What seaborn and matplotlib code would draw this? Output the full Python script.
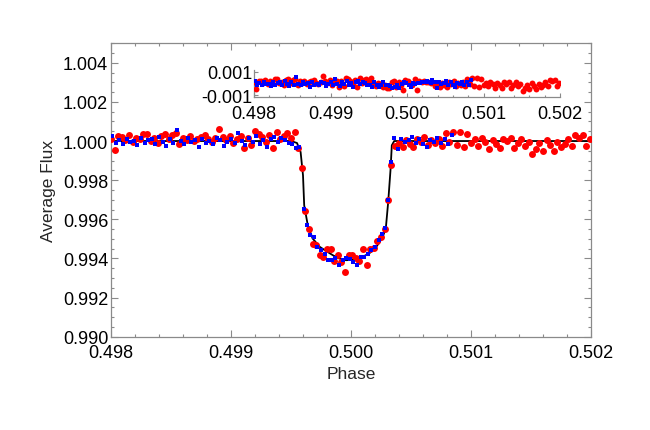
import numpy as np
import pandas as pd
import matplotlib
matplotlib.use("Agg")
import matplotlib.pyplot as plt
from matplotlib.ticker import MultipleLocator, FormatStrFormatter
import seaborn as sns

# ---------------- data ----------------
red_phase = [
    0.49800, 0.49803, 0.49806, 0.49809, 0.49812, 0.49815, 0.49818, 0.49821, 0.49824, 0.49827,
    0.49830, 0.49833, 0.49836, 0.49839, 0.49842, 0.49845, 0.49848, 0.49851, 0.49854, 0.49857,
    0.49860, 0.49863, 0.49866, 0.49869, 0.49872, 0.49875, 0.49878, 0.49881, 0.49884, 0.49887,
    0.49890, 0.49893, 0.49896, 0.49899, 0.49902, 0.49905, 0.49908, 0.49911, 0.49914, 0.49917,
    0.49920, 0.49923, 0.49926, 0.49929, 0.49932, 0.49935, 0.49938, 0.49941, 0.49944, 0.49947,
    0.49950, 0.49953, 0.49956, 0.49959, 0.49962, 0.49965, 0.49968, 0.49971, 0.49974, 0.49977,
    0.49980, 0.49983, 0.49986, 0.49989, 0.49992, 0.49995, 0.49998, 0.50001, 0.50004, 0.50007,
    0.50010, 0.50013, 0.50016, 0.50019, 0.50022, 0.50025, 0.50028, 0.50031, 0.50033, 0.50037,
    0.50040, 0.50043, 0.50046, 0.50049, 0.50052, 0.50055, 0.50058, 0.50061, 0.50064, 0.50067,
    0.50070, 0.50073, 0.50076, 0.50079, 0.50082, 0.50085, 0.50088, 0.50091, 0.50094, 0.50097,
    0.50100, 0.50103, 0.50106, 0.50109, 0.50112, 0.50115, 0.50118, 0.50121, 0.50124, 0.50127,
    0.50130, 0.50133, 0.50136, 0.50139, 0.50142, 0.50145, 0.50148, 0.50151, 0.50154, 0.50157,
    0.50160, 0.50163, 0.50166, 0.50169, 0.50172, 0.50175, 0.50178, 0.50181, 0.50184, 0.50187,
    0.50190, 0.50193, 0.50196, 0.50199,
]
red_flux = [
    1.00012, 0.99955, 1.00025, 1.00020, 1.00005, 1.00030, 0.99995, 1.00018, 1.00010, 1.00035,
    1.00038, 1.00002, 1.00015, 0.99990, 1.00028, 1.00037, 1.00008, 1.00033, 1.00040, 0.99985,
    1.00018, 1.00005, 1.00025, 0.99998, 1.00012, 1.00020, 1.00030, 1.00008, 0.99995, 1.00015,
    1.00062, 1.00020, 1.00005, 1.00028, 0.99990, 1.00012, 1.00025, 0.99966, 1.00018, 0.99980,
    1.00051, 1.00035, 1.00022, 0.99995, 1.00030, 0.99966, 1.00045, 1.00008, 1.00028, 1.00041,
    1.00015, 1.00046, 0.99966, 0.99860, 0.99640, 0.99549, 0.99476, 0.99471, 0.99416, 0.99405,
    0.99447, 0.99447, 0.99385, 0.99416, 0.99383, 0.99332, 0.99420, 0.99416, 0.99400, 0.99386,
    0.99450, 0.99365, 0.99450, 0.99455, 0.99488, 0.99510, 0.99550, 0.99697, 0.99876, 0.99975,
    0.99990, 0.99972, 1.00005, 0.99985, 0.99970, 1.00010, 0.99995, 1.00020, 0.99980, 1.00005,
    0.99988, 1.00012, 0.99975, 1.00040, 0.99995, 1.00046, 0.99982, 1.00045, 0.99970, 1.00035,
    0.99990, 1.00008, 0.99975, 1.00015, 0.99995, 0.99960, 1.00005, 0.99985, 0.99962, 1.00012,
    0.99998, 1.00015, 0.99965, 0.99990, 1.00010, 0.99975, 0.99995, 0.99935, 0.99960, 0.99990,
    0.99950, 1.00005, 0.99980, 0.99950, 0.99995, 0.99968, 0.99985, 1.00010, 0.99975, 1.00030,
    1.00018, 1.00032, 0.99975, 1.00008,
]

blue_phase = [
    0.49801, 0.49804, 0.49807, 0.49810, 0.49813, 0.49816, 0.49819, 0.49822, 0.49825, 0.49828,
    0.49831, 0.49834, 0.49837, 0.49840, 0.49843, 0.49846, 0.49849, 0.49852, 0.49855, 0.49858,
    0.49861, 0.49864, 0.49867, 0.49870, 0.49873, 0.49876, 0.49879, 0.49882, 0.49885, 0.49888,
    0.49891, 0.49894, 0.49897, 0.49900, 0.49903, 0.49906, 0.49909, 0.49912, 0.49915, 0.49918,
    0.49921, 0.49924, 0.49927, 0.49930, 0.49933, 0.49936, 0.49939, 0.49942, 0.49945, 0.49948,
    0.49951, 0.49954, 0.49957, 0.49961, 0.49963, 0.49966, 0.49969, 0.49972, 0.49975, 0.49978,
    0.49981, 0.49984, 0.49987, 0.49990, 0.49993, 0.49996, 0.49999, 0.50002, 0.50005, 0.50008,
    0.50011, 0.50014, 0.50017, 0.50020, 0.50023, 0.50026, 0.50028, 0.50031, 0.50033, 0.50036,
    0.50039, 0.50042, 0.50045, 0.50048, 0.50051, 0.50054, 0.50057, 0.50060, 0.50063, 0.50066,
    0.50069, 0.50072, 0.50075, 0.50078, 0.50081, 0.50084,
]
blue_flux = [
    1.00025, 0.99990, 1.00005, 0.99985, 1.00010, 0.99995, 1.00000, 0.99980, 1.00015, 0.99990,
    1.00005, 1.00012, 0.99985, 1.00020, 0.99995, 0.99975, 1.00010, 0.99990, 1.00055, 1.00000,
    0.99985, 1.00015, 0.99995, 1.00005, 0.99970, 1.00010, 0.99990, 1.00000, 0.99985, 1.00015,
    1.00005, 0.99975, 0.99995, 1.00010, 0.99990, 1.00040, 1.00000, 0.99980, 1.00015, 0.99995,
    1.00025, 0.99985, 1.00005, 0.99970, 1.00010, 1.00020, 0.99995, 1.00015, 1.00005, 0.99990,
    0.99985, 0.99966, 0.99972, 0.99655, 0.99573, 0.99522, 0.99510, 0.99459, 0.99442, 0.99425,
    0.99391, 0.99391, 0.99400, 0.99365, 0.99391, 0.99400, 0.99395, 0.99383, 0.99365, 0.99408,
    0.99408, 0.99425, 0.99442, 0.99459, 0.99493, 0.99527, 0.99553, 0.99697, 0.99893, 1.00017,
    0.99960, 1.00010, 0.99995, 1.00005, 1.00020, 0.99990, 1.00010, 0.99985, 0.99970, 1.00005,
    0.99995, 1.00015, 0.99990, 1.00012, 0.99985, 1.00029,
]

model_phase = [
    0.49800, 0.49950, 0.49955, 0.49958, 0.49960, 0.49961, 0.49964, 0.49968, 0.49974, 0.49980,
    0.49985, 0.49990, 0.49996, 0.50002, 0.50007, 0.50015, 0.50020, 0.50024, 0.50027, 0.50029,
    0.50031, 0.50033, 0.50034, 0.50036, 0.50200,
]
model_flux = [
    1.00000, 1.00000, 0.99990, 0.99944, 0.99825, 0.99671, 0.99569, 0.99502, 0.99459, 0.99435,
    0.99416, 0.99400, 0.99391, 0.99393, 0.99400, 0.99425, 0.99450, 0.99485, 0.99520, 0.99553,
    0.99689, 0.99859, 0.99978, 1.00000, 1.00000,
]

x_ticks = [0.498, 0.499, 0.500, 0.501, 0.502]
y_ticks = [0.990, 0.992, 0.994, 0.996, 0.998, 1.000, 1.002, 1.004]
inset_y_ticks = [-0.001, 0.001]

# ---------------- frames ----------------
red_df = pd.DataFrame({"Phase": red_phase, "Flux": red_flux})
blue_df = pd.DataFrame({"Phase": blue_phase, "Flux": blue_flux})
model_df = pd.DataFrame({"Phase": model_phase, "Flux": model_flux})
red_df["Resid"] = red_df["Flux"] - np.interp(red_df["Phase"], model_phase, model_flux)
blue_df["Resid"] = blue_df["Flux"] - np.interp(blue_df["Phase"], model_phase, model_flux)

# ---------------- style ----------------
sns.set_style("ticks")
plt.rcParams["font.family"] = ["Liberation Sans", "DejaVu Sans"]
plt.rcParams["axes.unicode_minus"] = True

FRAME = "#8a8a8a"
fig = plt.figure(figsize=(6.5, 4.31), dpi=100)
W, H = 650, 431
ax = fig.add_axes([111 / W, 1 - 337.7 / H, 480 / W, 293.5 / H])

sns.lineplot(data=model_df, x="Phase", y="Flux", ax=ax, color="black",
             linewidth=1.3, sort=False, zorder=2)
sns.scatterplot(data=red_df, x="Phase", y="Flux", ax=ax, color="#ff0000",
                marker="o", s=25, linewidth=0, zorder=3)
sns.scatterplot(data=blue_df, x="Phase", y="Flux", ax=ax, color="#0000ff",
                marker="s", s=10, linewidth=0, zorder=4)

ax.set_xlim(0.498, 0.502)
ax.set_ylim(0.990, 1.005)
ax.set_xticks(x_ticks)
ax.set_yticks(y_ticks)
ax.xaxis.set_major_formatter(FormatStrFormatter("%.3f"))
ax.yaxis.set_major_formatter(FormatStrFormatter("%.3f"))
ax.xaxis.set_minor_locator(MultipleLocator(0.0002))
ax.yaxis.set_minor_locator(MultipleLocator(0.0005))
ax.tick_params(which="both", direction="in", top=True, right=True, colors=FRAME,
               labelcolor="black", labelsize=13, width=0.8)
ax.tick_params(axis="x", which="both", pad=5.5)
ax.tick_params(axis="y", which="both", pad=2)
ax.tick_params(which="major", length=5)
ax.tick_params(which="minor", length=2.5)
for sp in ax.spines.values():
    sp.set_color(FRAME)
    sp.set_linewidth(0.9)
ax.set_xlabel("Phase", fontsize=12.5, labelpad=3)
ax.set_ylabel("Average Flux", fontsize=12.5, labelpad=5)

# ---------------- inset (residuals) ----------------
axi = fig.add_axes([254 / W, 1 - 98 / H, 306 / W, 27 / H])
axi.patch.set_alpha(0)
sns.scatterplot(data=red_df, x="Phase", y="Resid", ax=axi, color="#ff0000",
                marker="o", s=18, linewidth=0, zorder=3)
sns.scatterplot(data=blue_df, x="Phase", y="Resid", ax=axi, color="#0000ff",
                marker="s", s=9, linewidth=0, zorder=4)
axi.set_xlim(0.498, 0.502)
axi.set_ylim(-0.00117, 0.00117)
axi.set_xticks(x_ticks)
axi.set_yticks(inset_y_ticks)
axi.xaxis.set_major_formatter(FormatStrFormatter("%.3f"))
axi.yaxis.set_major_formatter(FormatStrFormatter("%.3f"))
axi.xaxis.set_minor_locator(MultipleLocator(0.0002))
axi.tick_params(which="both", direction="in", colors=FRAME, labelcolor="black",
                labelsize=13, width=0.8)
axi.tick_params(axis="x", which="both", pad=5.5)
axi.tick_params(axis="y", which="both", pad=1)
axi.tick_params(which="major", length=3)
axi.tick_params(which="minor", length=1.5)
axi.spines["top"].set_visible(False)
axi.spines["right"].set_visible(False)
for k in ("left", "bottom"):
    axi.spines[k].set_color(FRAME)
    axi.spines[k].set_linewidth(0.9)
axi.set_xlabel("")
axi.set_ylabel("")

fig.savefig("out.png", dpi=100)
